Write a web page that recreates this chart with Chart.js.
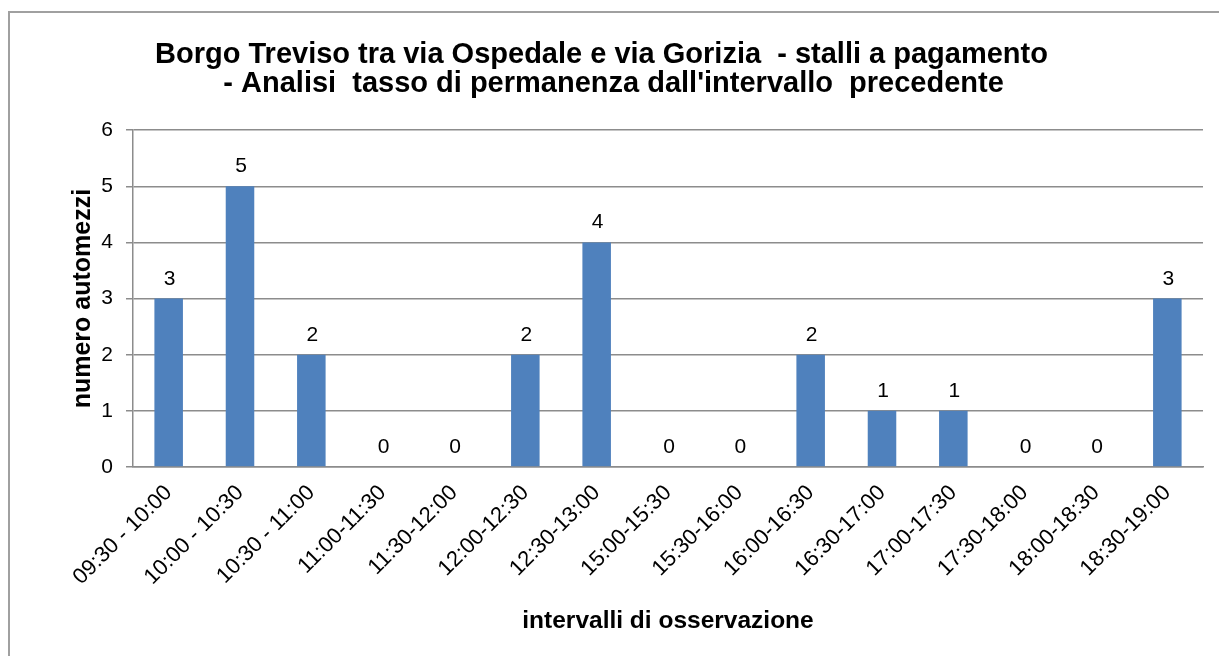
<!DOCTYPE html>
<html>
<head>
<meta charset="utf-8">
<script src="https://cdn.jsdelivr.net/npm/chart.js@4.4.0/dist/chart.umd.min.js"></script>
<style>
    html, body { margin: 0; padding: 0; background: #fff; overflow: hidden; }
    .frame { position: absolute; left: 8px; top: 11px; width: 1300px; height: 800px; border: 2px solid #a0a0a0; }
    #chart { position: absolute; left: 0; top: 0; }
</style>
</head>
<body>
<div class="frame"></div>
<canvas id="chart" width="1219" height="656"></canvas>
<script>
// Data
const intervals = ['09:30 - 10:00', '10:00 - 10:30', '10:30 - 11:00', '11:00-11:30', '11:30-12:00',
    '12:00-12:30', '12:30-13:00', '15:00-15:30', '15:30-16:00', '16:00-16:30',
    '16:30-17:00', '17:00-17:30', '17:30-18:00', '18:00-18:30', '18:30-19:00'];
const vehicles = [3, 5, 2, 0, 0, 2, 4, 0, 0, 2, 1, 1, 0, 0, 3];
const yTicks = [0, 1, 2, 3, 4, 5, 6];
const titleLines = [
    'Borgo Treviso tra via Ospedale e via Gorizia  - stalli a pagamento',
    '   - Analisi  tasso di permanenza dall\'intervallo  precedente'
];

const FONT = "'Liberation Sans', Arial, sans-serif";
const GRID = '#8c8c8c';

// Value labels over each bar
const barLabels = {
    id: 'barLabels',
    afterDatasetsDraw(chart) {
        const ctx = chart.ctx;
        const meta = chart.getDatasetMeta(0);
        ctx.save();
        ctx.font = `21px ${FONT}`;
        ctx.fillStyle = '#000';
        ctx.textAlign = 'center';
        ctx.textBaseline = 'alphabetic';
        meta.data.forEach((bar, i) => {
            ctx.fillText(String(vehicles[i]), bar.x + 1, bar.y - 14);
        });
        ctx.restore();
    }
};

new Chart(document.getElementById('chart'), {
    type: 'bar',
    data: {
        labels: intervals,
        datasets: [{
            data: vehicles,
            backgroundColor: '#4f81bd',
            barPercentage: 0.4,
            categoryPercentage: 1
        }]
    },
    options: {
        responsive: false,
        animation: false,
        layout: { padding: { left: 0, right: 16, top: 0, bottom: 0 } },
        plugins: {
            legend: { display: false },
            tooltip: { enabled: false },
            title: {
                display: true,
                text: titleLines,
                color: '#000',
                font: { family: FONT, size: 29, weight: 'bold', lineHeight: 1.02 },
                padding: { top: 40, bottom: 31 }
            }
        },
        scales: {
            x: {
                grid: { display: false, drawTicks: false },
                border: { display: true, color: GRID, width: 1.5 },
                ticks: {
                    color: '#000',
                    font: { family: FONT, size: 22 },
                    maxRotation: 45,
                    minRotation: 45,
                    autoSkip: false,
                    padding: 13
                },
                title: {
                    display: true,
                    text: 'intervalli di osservazione',
                    color: '#000',
                    font: { family: FONT, size: 24.5, weight: 'bold' },
                    padding: { top: 0, bottom: 20 }
                },
                afterFit: s => { s.height = 189; }
            },
            y: {
                min: 0,
                max: 6,
                afterBuildTicks: s => { s.ticks = yTicks.map(v => ({ value: v })); },
                ticks: {
                    color: '#000',
                    font: { family: FONT, size: 21 },
                    padding: 13
                },
                grid: { color: GRID, lineWidth: 1.5, tickLength: 7 },
                border: { display: true, color: GRID, width: 1.5 },
                title: {
                    display: true,
                    text: 'numero automezzi',
                    color: '#000',
                    font: { family: FONT, size: 25, weight: 'bold' },
                    padding: { top: 68, bottom: 0 }
                },
                afterFit: s => { s.width = 133; }
            }
        }
    },
    plugins: [barLabels]
});
</script>
</body>
</html>
